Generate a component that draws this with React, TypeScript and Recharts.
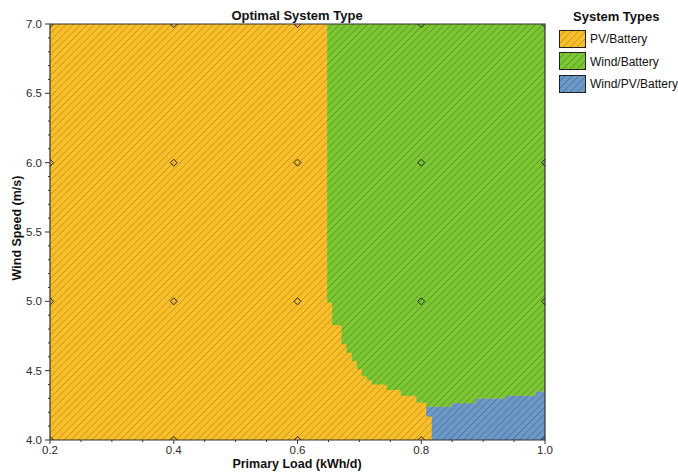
import React from 'react';
import { ComposedChart, Area, Scatter, XAxis, YAxis, ReferenceArea, Legend } from 'recharts';

// ---- axis ticks ----
const loadMajor = [0.2, 0.4, 0.6, 0.8, 1.0];
const loadTicks = [0.2, 0.25, 0.3, 0.35, 0.4, 0.45, 0.5, 0.55, 0.6, 0.65, 0.7, 0.75, 0.8, 0.85, 0.9, 0.95, 1.0];
const windMajor = [4.0, 4.5, 5.0, 5.5, 6.0, 6.5, 7.0];
const windTicks = [
  4.0, 4.1, 4.2, 4.3, 4.4, 4.5, 4.6, 4.7, 4.8, 4.9, 5.0, 5.1, 5.2, 5.3, 5.4, 5.5,
  5.6, 5.7, 5.8, 5.9, 6.0, 6.1, 6.2, 6.3, 6.4, 6.5, 6.6, 6.7, 6.8, 6.9, 7.0,
];

// ---- region boundaries (step after each load value) ----
const pvLoad = [0.2, 1.0];
const pvLow = [4.0, 4.0];
const pvHigh = [7.0, 7.0];

const windLoad = [0.648, 0.656, 0.671, 0.679, 0.688, 0.696, 0.704, 0.712, 0.72, 0.744, 0.767, 0.792, 0.808, 0.849, 0.888, 0.937, 0.985, 1.0];
const windLow = [4.99, 4.83, 4.69, 4.63, 4.57, 4.51, 4.46, 4.43, 4.4, 4.36, 4.32, 4.27, 4.24, 4.265, 4.3, 4.32, 4.35, 4.35];
const windHigh = [7.0, 7.0, 7.0, 7.0, 7.0, 7.0, 7.0, 7.0, 7.0, 7.0, 7.0, 7.0, 7.0, 7.0, 7.0, 7.0, 7.0, 7.0];

const hybridLoad = [0.808, 0.817, 0.849, 0.888, 0.937, 0.985, 1.0];
const hybridLow = [4.17, 4.0, 4.0, 4.0, 4.0, 4.0, 4.0];
const hybridHigh = [4.24, 4.24, 4.265, 4.3, 4.32, 4.35, 4.35];

// ---- sensitivity grid points ----
const gridLoads = [0.2, 0.4, 0.6, 0.8, 1.0];
const gridWinds = [4.0, 5.0, 6.0, 7.0];

const seriesNames = ['PV/Battery', 'Wind/Battery', 'Wind/PV/Battery'];
const seriesFill = ['#F9BF2B', '#7CC634', '#6C98C7'];
const seriesHatch = ['#B88A1C', '#4F8A20', '#46698F'];
const patternIds = ['hatchPV', 'hatchWind', 'hatchHybrid'];

const stepAt = (xs: number[], lo: number[], hi: number[], x: number) => {
  let idx = -1;
  for (let i = 0; i < xs.length; i++) if (xs[i] <= x + 1e-9) idx = i;
  if (idx < 0) return null;
  return [lo[idx], hi[idx]];
};

const allLoads = Array.from(new Set([...pvLoad, ...windLoad, ...hybridLoad])).sort((a, b) => a - b);
const table = allLoads.map((load) => ({
  load,
  pv: stepAt(pvLoad, pvLow, pvHigh, load),
  wind: stepAt(windLoad, windLow, windHigh, load),
  hybrid: stepAt(hybridLoad, hybridLow, hybridHigh, load),
}));

const gridPoints: { load: number; wind: number }[] = [];
gridWinds.forEach((w) => gridLoads.forEach((l) => gridPoints.push({ load: l, wind: w })));

const FONT = '"Liberation Sans", Arial, sans-serif';
const isMajor = (arr: number[], v: number) => arr.some((m) => Math.abs(m - v) < 1e-6);

const XTick = (props: any) => {
  const { x, y, payload } = props;
  const v = payload.value as number;
  const major = isMajor(loadMajor, v);
  return (
    <g>
      <line x1={x} x2={x} y1={y} y2={y + (major ? 4 : 2)} stroke="#333" strokeWidth={1} />
      {major && (
        <text x={x} y={y + 14} textAnchor="middle" fontSize={11.5} fill="#2a2a2a" fontFamily={FONT}>
          {v.toFixed(1)}
        </text>
      )}
    </g>
  );
};

const YTick = (props: any) => {
  const { x, y, payload } = props;
  const v = payload.value as number;
  const major = isMajor(windMajor, v);
  return (
    <g>
      <line x1={x} x2={x - (major ? 5 : 2)} y1={y} y2={y} stroke="#333" strokeWidth={1} />
      {major && (
        <text x={x - 8} y={y + 4} textAnchor="end" fontSize={11.5} fill="#2a2a2a" fontFamily={FONT}>
          {v.toFixed(1)}
        </text>
      )}
    </g>
  );
};

const Diamond = (props: any) => {
  const { cx, cy } = props;
  if (cx == null || cy == null) return null;
  const r = 3.5;
  return (
    <path
      d={`M${cx},${cy - r} L${cx + r},${cy} L${cx},${cy + r} L${cx - r},${cy} Z`}
      fill="none"
      stroke="#222"
      strokeWidth={1}
    />
  );
};

const LegendBox = () => (
  <div style={{ fontFamily: FONT, width: 125, position: 'relative' }}>
    <div style={{ fontWeight: 'bold', fontSize: 13, color: '#111', textAlign: 'left', marginLeft: 14, lineHeight: '15px' }}>
      System Types
    </div>
    {seriesNames.map((n, i) => (
      <div key={n} style={{ display: 'flex', alignItems: 'center', height: 22.5, marginTop: i === 0 ? 4 : 0 }}>
        <svg width={28} height={19} style={{ display: 'block' }}>
          <rect x={0.5} y={0.5} width={26} height={17} fill={`url(#${patternIds[i]})`} stroke="#222" strokeWidth={1} />
        </svg>
        <span style={{ fontSize: 12, color: '#111', marginLeft: 3 }}>{n}</span>
      </div>
    ))}
  </div>
);

export default function App() {
  return (
    <div style={{ position: 'absolute', left: 0, top: 0, width: 678, height: 472, background: '#fff' }}>
      <ComposedChart
        width={678}
        height={472}
        data={table}
        margin={{ top: 24, right: 133, bottom: 31, left: 49 }}
      >
        <defs>
          {patternIds.map((id, i) => (
            <pattern key={id} id={id} patternUnits="userSpaceOnUse" width={7} height={7}>
              <rect width={7} height={7} fill={seriesFill[i]} />
              <path
                d="M-1,1 L1,-1 M0,7 L7,0 M6,8 L8,6"
                stroke={seriesHatch[i]}
                strokeWidth={1}
                strokeOpacity={0.8}
              />
            </pattern>
          ))}
        </defs>
        <Area
          dataKey="pv"
          name={seriesNames[0]}
          type="stepAfter"
          fill={`url(#${patternIds[0]})`}
          fillOpacity={1}
          stroke="none"
          isAnimationActive={false}
          dot={false}
          activeDot={false}
        />
        <Area
          dataKey="wind"
          name={seriesNames[1]}
          type="stepAfter"
          fill={`url(#${patternIds[1]})`}
          fillOpacity={1}
          stroke="none"
          isAnimationActive={false}
          dot={false}
          activeDot={false}
        />
        <Area
          dataKey="hybrid"
          name={seriesNames[2]}
          type="stepAfter"
          fill={`url(#${patternIds[2]})`}
          fillOpacity={1}
          stroke="none"
          isAnimationActive={false}
          dot={false}
          activeDot={false}
        />
        <Scatter data={gridPoints} dataKey="wind" shape={<Diamond />} isAnimationActive={false} legendType="none" />
        <XAxis
          dataKey="load"
          type="number"
          domain={[0.2, 1.0]}
          ticks={loadTicks}
          interval={0}
          allowDataOverflow
          height={1}
          tickSize={0}
          tickMargin={0}
          tickLine={false}
          axisLine={false}
          tick={(p: any) => <XTick {...p} />}
        />
        <YAxis
          type="number"
          domain={[4.0, 7.0]}
          ticks={windTicks}
          interval={0}
          allowDataOverflow
          width={1}
          tickSize={0}
          tickMargin={0}
          tickLine={false}
          axisLine={false}
          tick={(p: any) => <YTick {...p} />}
        />
        <ReferenceArea x1={0.2} x2={1.0} y1={4.0} y2={7.0} fill="none" fillOpacity={0} stroke="#333" strokeWidth={1.2} />
        <Legend
          layout="horizontal"
          align="center"
          verticalAlign="middle"
          content={() => <LegendBox />}
          wrapperStyle={{ position: 'absolute', left: 559, top: 9, width: 119, height: 100 }}
        />
        <text x={297} y={20} textAnchor="middle" fontSize={13} fontWeight="bold" fill="#111" fontFamily={FONT}>
          Optimal System Type
        </text>
        <text x={297} y={468} textAnchor="middle" fontSize={12.5} fontWeight="bold" fill="#111" fontFamily={FONT}>
          Primary Load (kWh/d)
        </text>
        <text
          x={21}
          y={228}
          textAnchor="middle"
          fontSize={12.5}
          fontWeight="bold"
          fill="#111"
          fontFamily={FONT}
          transform="rotate(-90 21 228)"
        >
          Wind Speed (m/s)
        </text>
      </ComposedChart>
    </div>
  );
}
